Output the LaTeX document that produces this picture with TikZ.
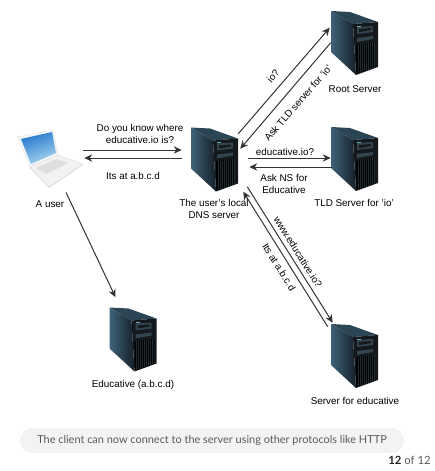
\documentclass[tikz,border=0pt]{standalone}
\usepackage{fontspec}
\setmainfont{Liberation Sans}
\newfontfamily\pillfont{Lato}
\usepackage{tikz}
\usetikzlibrary{positioning, arrows.meta, calc}
\definecolor{sidedark}{HTML}{141F27}
\definecolor{sidelight}{HTML}{3F6278}
\definecolor{frontdark}{HTML}{14191D}
\definecolor{baydark}{HTML}{33444F}
\definecolor{griddark}{HTML}{222C33}
\definecolor{screenblue}{HTML}{2478CC}
\definecolor{screenlight}{HTML}{A9D6F0}
\definecolor{arrowgray}{HTML}{333333}
\definecolor{pillgray}{HTML}{F3F3F3}
\definecolor{pilltext}{HTML}{5A5A5A}
\tikzset{
  server/.pic={
    \begin{scope}[shift={(-24,-32.5)}]
      % top, side and front faces
      \fill[sidelight!70!black] (1,1) -- (20,2) -- (48,12) -- (23,14) -- cycle;
      \shade[left color=sidelight, right color=sidedark] (1,1) -- (23,14) -- (26,65) -- (1,42) -- cycle;
      \fill[frontdark] (23,14) -- (48,12) -- (48,57) -- (26,65) -- cycle;
      \fill[baydark] (27,17) -- (43,16) -- (43,22) -- (27,24) -- cycle;
      \fill[frontdark] (29,19) -- (41,18) -- (41,20) -- (29,22) -- cycle;
      \fill[baydark] (27,28) -- (43,26) -- (43,29) -- (27,32) -- cycle;
      \fill[teal!60!white] (27,15.5) rectangle (31,16.5);
      % grille
      \fill[black] (26,35) -- (45,32) -- (45,57) -- (26,64) -- cycle;
      \foreach \gx in {28,30,...,44}
        \draw[griddark, line width=.3pt] (\gx,{35-(\gx-26)*.16}) -- (\gx,{64-(\gx-26)*.37});
    \end{scope}
  },
  laptop/.pic={
    \begin{scope}[shift={(-50,-158.5)}]
      \fill[black!14] (30,168) -- (49,188) -- (83,165) -- (70,160) -- cycle;
      \fill[black!4, draw=black!10, line width=.3pt] (17,137) -- (53,130) -- (58,155) -- (30,167) -- cycle;
      \shade[left color=screenblue, right color=screenlight, shading angle=20] (21,139) -- (52,132) -- (56,153) -- (31,164) -- cycle;
      \fill[black!5, draw=black!12, line width=.3pt] (30,167) -- (58,155) -- (83,164) -- (49,187) -- cycle;
      \fill[black!13] (36,168) -- (57,159) -- (68,163) -- (47,174) -- cycle;
    \end{scope}
  }
}
\begin{document}
\begin{tikzpicture}[
  x=.75pt, y=-.75pt,
  box/.style={rectangle, inner sep=0pt, minimum width=36pt, minimum height=48.75pt},
  lbl/.style={align=center, inner sep=0pt, font=\fontsize{7.4}{9.6}\selectfont},
  arr/.style={-{Stealth[length=6pt, width=5.5pt]}, draw=arrowgray, line width=.75pt}
]
\useasboundingbox (0,0) rectangle (435,471);
\node[box] (local) at (214,159) {};
\node[box] (root) at (354,42.5) {};
\node[box] (tld) at (354,158.5) {};
\node[box] (edu) at (132.5,339) {};
\node[box] (ns) at (354,355.5) {};
\node[box, minimum width=49.5pt, minimum height=43pt] (user) at (50,158.5) {};
\foreach \srv in {local,root,tld,edu,ns}
  \pic at (\srv) {server};
\pic at (user) {laptop};

\draw[arr] ([shift={(0,7.5)}]local.north east) -- ([shift={(0,18)}]root.north west);
\draw[arr] ([shift={(1,33)}]root.north west) -- ([shift={(2,22.5)}]local.north east);
\draw[arr] ([shift={(10,-1)}]local.east) -- ([shift={(1,-.5)}]tld.west);
\draw[arr] ([shift={(2,8.5)}]tld.west) -- ([shift={(11,8)}]local.east);
\draw[arr] ([shift={(9,-5)}]local.south east) -- ([shift={(3,0)}]ns.north west);
\draw[arr] ([shift={(-2,4)}]ns.north west) -- ([shift={(5,0)}]local.south east);
\draw[arr] ([shift={(0,-8.5)}]user.east) -- ([shift={(-8,-9)}]local.west);
\draw[arr] ([shift={(-8,-1)}]local.west) -- ([shift={(1,-.5)}]user.east);
\draw[arr] ([shift={(16,5)}]user.south) -- ([shift={(-17,-9)}]edu.north);

\node[lbl] (qlabel) at (140,134) {Do you know where\\educative.io is?};
\node[lbl] (alabel) at (133,176) {Its at a.b.c.d};
\node[lbl] (userlabel) at (50,204) {A user};
\node[lbl] (locallabel) at (214,209) {The user's local\\DNS server};
\node[lbl] (rootlabel) at (355,89) {Root Server};
\node[lbl] (tldlabel) at (354,203) {TLD Server for 'io'};
\node[lbl] (tldq) at (285,152) {educative.io?};
\node[lbl] (tlda) at (284,184) {Ask NS for\\Educative};
\node[lbl, rotate=49] (rootq) at (273,76) {io?};
\node[lbl, rotate=49] (roota) at (298,103) {Ask TLD server for 'io'};
\node[lbl, rotate=-58] (nsq) at (298,252) {www.educative.io?};
\node[lbl, rotate=-58] (nsa) at (279,267) {Its at a.b.c.d};
\node[lbl] (edulabel) at (133,385) {Educative (a.b.c.d)};
\node[lbl] (nslabel) at (355,401) {Server for educative};

\node[rectangle, rounded corners=9pt, fill=pillgray, minimum width=288pt, minimum height=18.75pt, inner sep=0pt, text=pilltext, font=\pillfont\fontsize{8.2}{10}\selectfont] (pill) at (212,440.5) {The client can now connect to the server using other protocols like HTTP};
\node[inner sep=0pt, text=pilltext, font=\pillfont\fontsize{8.5}{10}\selectfont] (page) at (409.5,460) {\textcolor{black!85}{\textbf{12}} of 12};
\end{tikzpicture}
\end{document}
